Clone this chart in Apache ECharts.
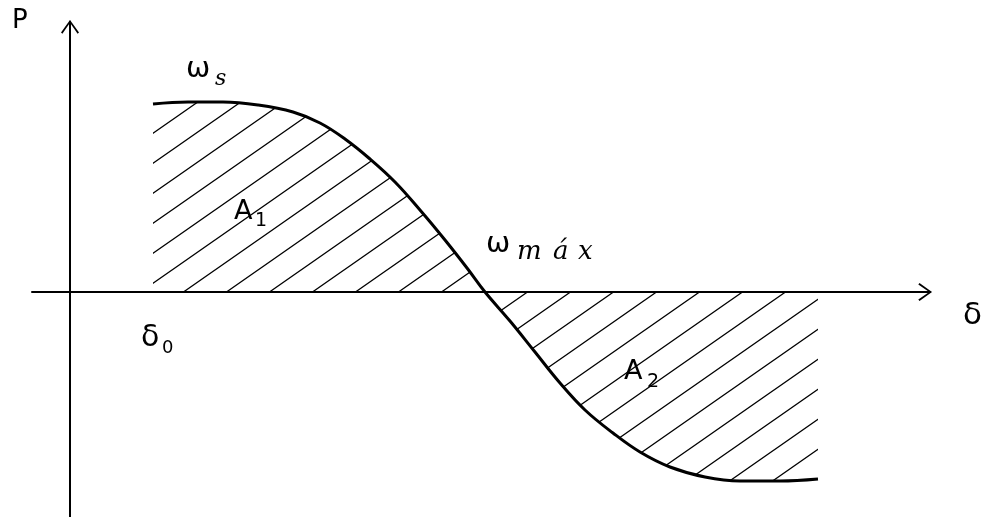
<!DOCTYPE html>
<html>
<head>
<meta charset="utf-8">
<title>P-δ</title>
<script src="https://cdn.jsdelivr.net/npm/echarts@6/dist/echarts.min.js"></script>
<style>
	html, body { margin: 0; padding: 0; background: #fff; }
	#chart { width: 987px; height: 517px; }
</style>
</head>
<body>
<div id="chart"></div>
<script type="text/javascript">
	// 曲线 P(δ) 上读取的点
	var deltaValues = [83, 118, 153, 188, 223, 250, 275, 300, 325, 350, 375, 397, 415, 440, 465, 490, 515, 543, 570, 600, 635, 670, 710, 748];
	var powerValues = [188, 190, 190, 187, 180, 169, 153, 133, 110, 82, 52, 24, 0, -29, -60, -91, -118, -141, -160, -175, -185, -189, -189, -187];

	// 坐标轴范围
	var xRange = [-38, 849];
	var yRange = [-225, 259];

	// 斜线填充图案
	function hatchPattern(w, h) {
		var c = document.createElement('canvas');
		c.width = w;
		c.height = h;
		var ctx = c.getContext('2d');
		ctx.strokeStyle = '#000';
		ctx.lineWidth = 1.3;
		var shifts = [[0, 0], [-w, 0], [w, 0], [0, -h], [0, h]];
		ctx.beginPath();
		shifts.forEach(function (s) {
			ctx.moveTo(s[0], h + s[1]);
			ctx.lineTo(w + s[0], s[1]);
		});
		ctx.stroke();
		return c;
	}

	// 空心箭头（含中间的杆）
	var arrowPath = 'path://M9,0 L0,12.5 L1.4,13.7 L9,2.8 L16.6,13.7 L18,12.5 Z M8,0.8 L8,26 L10,26 L10,0.8 Z';

	var chart = echarts.init(document.getElementById('chart'));

	// 文字：x 为左边，y 为基线
	function label(x, y, text, size, italic) {
		return {
			type: 'text',
			x: x,
			y: y - size * 0.8,
			style: {
				text: text,
				fontSize: size,
				fontStyle: italic ? 'italic' : 'normal',
				fontFamily: italic ? 'DejaVu Serif' : 'DejaVu Sans',
				fill: '#000',
				lineHeight: size
			}
		};
	}

	chart.setOption({
		animation: false,
		grid: { left: 32, right: 68, top: 33, bottom: 0 },
		xAxis: {
			type: 'value',
			min: xRange[0],
			max: xRange[1],
			axisLine: {
				onZero: true,
				lineStyle: { color: '#000', width: 2 },
				symbol: ['none', arrowPath],
				symbolSize: [18, 26]
			},
			axisTick: { show: false },
			axisLabel: { show: false },
			splitLine: { show: false }
		},
		yAxis: {
			type: 'value',
			min: yRange[0],
			max: yRange[1],
			axisLine: {
				show: true,
				onZero: true,
				lineStyle: { color: '#000', width: 2 },
				symbol: ['none', arrowPath],
				symbolSize: [18, 26]
			},
			axisTick: { show: false },
			axisLabel: { show: false },
			splitLine: { show: false }
		},
		series: [{
			type: 'line',
			data: deltaValues.map(function (d, i) { return [d, powerValues[i]]; }),
			smooth: 0.4,
			showSymbol: false,
			lineStyle: { color: '#000', width: 3 },
			areaStyle: {
				origin: 0,
				opacity: 1,
				color: { image: hatchPattern(43, 30), repeat: 'repeat' }
			}
		}],
		graphic: [
			label(12, 29, 'P', 26),
			label(186, 78, 'ω', 29),
			label(215, 86, 's', 22, true),
			label(234, 220, 'A', 27),
			label(255, 227, '1', 19),
			label(486, 253, 'ω', 29),
			label(517, 260, 'm', 26, true),
			label(553, 260, 'á', 26, true),
			label(578, 260, 'x', 26, true),
			label(963, 325, 'δ', 31),
			label(141, 347, 'δ', 30),
			label(162, 354, '0', 18),
			label(624, 380, 'A', 27),
			label(647, 388, '2', 19)
		]
	});

	window.addEventListener('resize', function () {
		chart.resize();
	});
</script>
</body>
</html>
